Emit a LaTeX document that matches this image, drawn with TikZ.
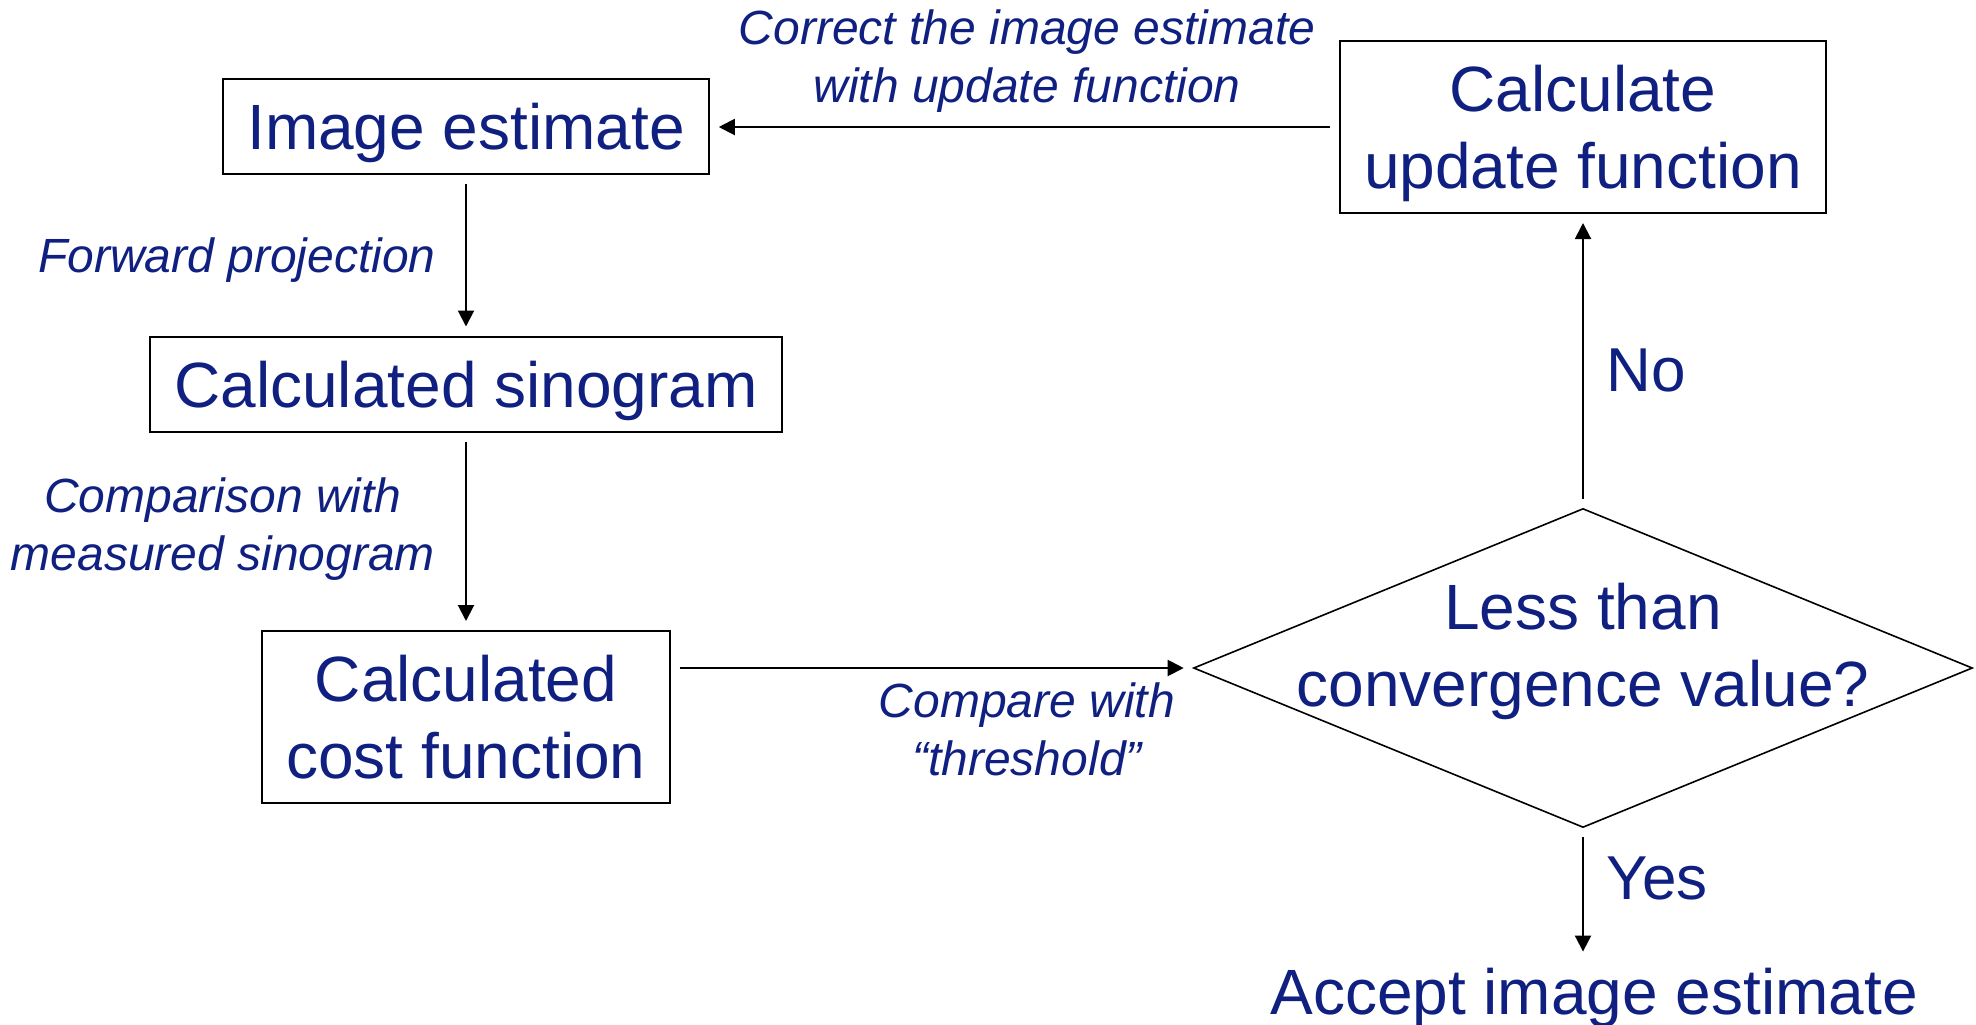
\documentclass[tikz,border=0pt]{standalone}
\usepackage{fontspec}
\setmainfont{Liberation Sans}
\usetikzlibrary{arrows.meta,shapes.geometric}
\definecolor{navy}{RGB}{16,32,128}
\tikzset{>={Triangle[length=8pt,width=8pt]}}
\tikzset{
	box/.style={draw, line width=1pt, text=navy, font=\fontsize{32}{38.5}\selectfont, align=center, inner xsep=12pt, text depth=0pt, minimum height=47.5pt},
	txt/.style={text=navy, font=\fontsize{32}{38.5}\selectfont, align=center},
	lbl/.style={text=navy, font=\fontsize{24}{29}\selectfont\itshape, align=center},
	decision/.style={diamond, draw, line width=0.8pt, minimum width=389.5pt, minimum height=159.5pt, inner sep=0pt},
	flow/.style={->, line width=1pt, shorten >=4.5pt, shorten <=4.5pt}
}

\begin{document}
\begin{tikzpicture}[x=0.5pt, y=-0.5pt]
	\useasboundingbox (0,0) rectangle (1976,1024);

	% boxes of the loop
	\node[box, minimum width=239.5pt] (imgest) at (466,126) {Image estimate};
	\node[box, minimum width=314pt] (calcsino) at (466,384) {Calculated sinogram};
	\node[box, minimum width=200pt, minimum height=86pt] (costfn) at (466,717) {Calculated\\cost function};
	\node[box, minimum width=239.5pt, minimum height=86pt] (updfn) at (1583,127) {Calculate\\update function};

	% decision
	\node[decision] (test) at (1583,668) {};
	\node[txt] (testtxt) at (1583,651) {Less than\\convergence value?};
	\node[txt, anchor=base] (accept) at (1594,1014) {Accept image estimate};

	% arrows
	\draw[flow] (imgest) -- (calcsino);
	\draw[flow] (calcsino) -- (costfn);
	\draw[flow] (costfn.east |- test.west) -- (test.west);
	\draw[flow] (test.north) -- (updfn.south);
	\draw[flow] (updfn.west) -- (imgest.east |- updfn.west);
	\draw[flow] (test.south) -- (test.south |- accept.north);

	% labels on the arrows
	\node[lbl] (fwdlbl) at (237,260) {Forward projection};
	\node[lbl] (cmplbl) at (223,529) {Comparison with\\measured sinogram};
	\node[lbl] (thrlbl) at (1027,729) {Compare with\\``threshold''};
	\node[lbl] (corrlbl) at (1027,61) {Correct the image estimate\\with update function};
	\node[txt, font=\fontsize{31}{37}\selectfont] (nolbl) at (1646,370) {No};
	\node[txt, font=\fontsize{31}{37}\selectfont] (yeslbl) at (1657,878) {Yes};
\end{tikzpicture}
\end{document}
